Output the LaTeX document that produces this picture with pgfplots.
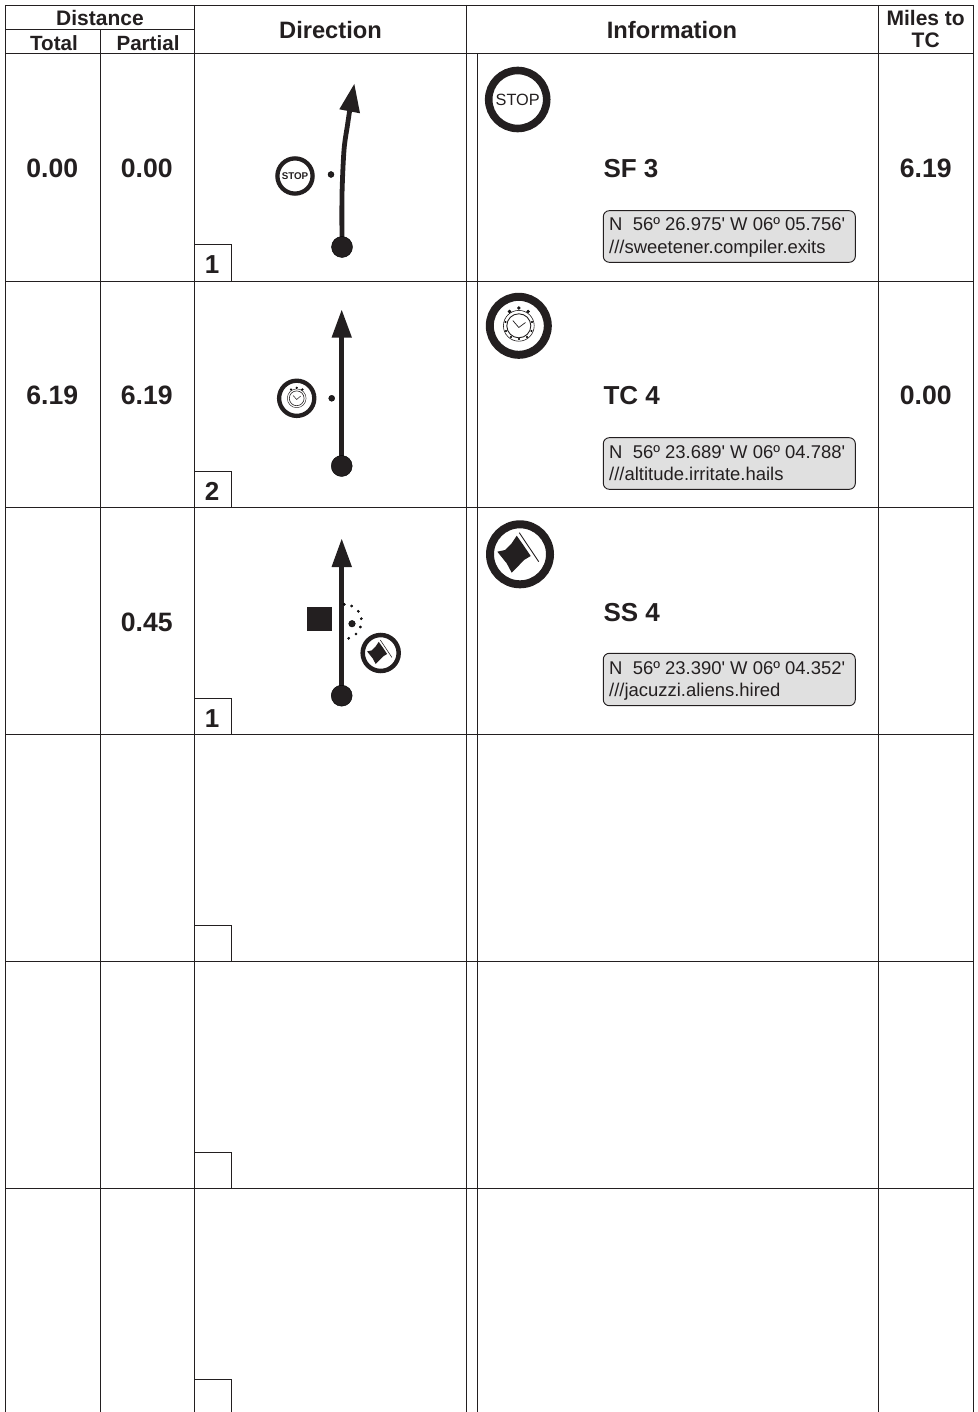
\documentclass[border=0pt]{standalone}
\usepackage{pgfplots}
\pgfplotsset{compat=1.18}
\usepackage{fontspec}
\setmainfont{Liberation Sans}
\newfontfamily\plainf{Liberation Sans}
\definecolor{ink}{HTML}{231F20}
\definecolor{boxgrey}{HTML}{E0E0E0}
\newcommand{\fs}[1]{\fontsize{#1bp}{#1bp}\selectfont}
\newcommand{\txt}[5]{\node[anchor=#1,inner sep=0pt,text=ink,font=#4,yshift=-0.7bp] at (axis cs:#2,#3) {#5};}
\pgfplotsset{
  rule/.style={ink,line width=0.95bp,no marks,forget plot},
  disc/.style 2 args={only marks,mark=*,mark size=#1bp,mark options={fill=ink,draw=none},forget plot},
  ring/.style 2 args={only marks,mark=o,mark size=#1bp,mark options={draw=ink,line width=#2bp},forget plot},
  stem/.style={ink,line width=4.8bp,no marks,forget plot},
  head/.style={fill=ink,draw=none,no marks,forget plot},
  greybox/.style={fill=boxgrey,draw=ink,line width=0.95bp,rounded corners=6bp,no marks,forget plot},
  pen/.style={ink,line width=#1bp,no marks,forget plot},
}
\begin{document}
\begin{tikzpicture}
\path[use as bounding box] (0,0) rectangle (978bp,1412bp);
\begin{axis}[at={(0,0)},anchor=south west,scale only axis,width=978bp,height=1412bp,
  xmin=0,xmax=978,ymin=0,ymax=1412,y dir=reverse,hide axis]
% table rules
\addplot[rule] coordinates {(5,5)(973,5)};
\addplot[rule] coordinates {(5,29.5)(194.5,29.5)};
\addplot[rule] coordinates {(5,53.5)(973,53.5)};
\addplot[rule] coordinates {(5,281)(973,281)};
\addplot[rule] coordinates {(5,507.6)(973,507.6)};
\addplot[rule] coordinates {(5,734.5)(973,734.5)};
\addplot[rule] coordinates {(5,961.3)(973,961.3)};
\addplot[rule] coordinates {(5,1188.3)(973,1188.3)};
\addplot[rule] coordinates {(5,5)(5,1412)};
\addplot[rule] coordinates {(100,29.5)(100,1412)};
\addplot[rule] coordinates {(194.5,5)(194.5,1412)};
\addplot[rule] coordinates {(466.5,5)(466.5,1412)};
\addplot[rule] coordinates {(477.5,53.5)(477.5,1412)};
\addplot[rule] coordinates {(878.5,5)(878.5,1412)};
\addplot[rule] coordinates {(973,5)(973,1412)};
% number boxes
\addplot[rule] coordinates {(194.5,244.5)(231,244.5)(231,281)};
\addplot[rule] coordinates {(194.5,471.2)(231,471.2)(231,507.6)};
\addplot[rule] coordinates {(194.5,698)(231,698)(231,734.5)};
\addplot[rule] coordinates {(194.5,925)(231,925)(231,961.3)};
\addplot[rule] coordinates {(194.5,1152)(231,1152)(231,1188.3)};
\addplot[rule] coordinates {(194.5,1379)(231,1379)(231,1412)};
% header
\txt{base}{100}{25}{\bfseries\fs{21}}{Distance}
\txt{base}{54}{50}{\bfseries\fs{20.6}}{Total}
\txt{base}{148}{50}{\bfseries\fs{20.6}}{Partial}
\txt{base}{330.5}{37.7}{\bfseries\fs{23.7}}{Direction}
\txt{base}{672}{37.7}{\bfseries\fs{23.7}}{Information}
\txt{base}{925.7}{24.4}{\bfseries\fs{21}}{Miles to}
\txt{base}{925.7}{47.3}{\bfseries\fs{21}}{TC}
% row values
\txt{base}{52.3}{176.7}{\bfseries\fs{26.6}}{0.00}
\txt{base}{146.7}{176.7}{\bfseries\fs{26.6}}{0.00}
\txt{base}{925.7}{176.7}{\bfseries\fs{26.6}}{6.19}
\txt{base}{52.3}{403.6}{\bfseries\fs{26.6}}{6.19}
\txt{base}{146.7}{403.6}{\bfseries\fs{26.6}}{6.19}
\txt{base}{925.7}{403.6}{\bfseries\fs{26.6}}{0.00}
\txt{base}{146.7}{630.5}{\bfseries\fs{26.6}}{0.45}
\txt{base}{212}{272.7}{\bfseries\fs{26}}{1}
\txt{base}{212}{499.6}{\bfseries\fs{26}}{2}
\txt{base}{212}{726.5}{\bfseries\fs{26}}{1}
\txt{base west}{603.3}{176.7}{\bfseries\fs{26}}{SF 3}
\txt{base west}{603.3}{403.3}{\bfseries\fs{26}}{TC 4}
\txt{base west}{603.3}{620.7}{\bfseries\fs{26}}{SS 4}
% grey boxes
\addplot[greybox] coordinates {(700,210.7)(855.3,210.7)(855.3,262.3)(603.3,262.3)(603.3,210.7)(700,210.7)};
\addplot[greybox] coordinates {(700,437.7)(855.3,437.7)(855.3,489.3)(603.3,489.3)(603.3,437.7)(700,437.7)};
\addplot[greybox] coordinates {(700,653.3)(855.3,653.3)(855.3,705.7)(603.3,705.7)(603.3,653.3)(700,653.3)};
\txt{base west}{609}{230}{\plainf\fs{18.45}}{N\ \ 56º 26.975' W 06º 05.756'}
\txt{base west}{609}{253.3}{\plainf\fs{18.45}}{///sweetener.compiler.exits}
\txt{base west}{609}{457.3}{\plainf\fs{18.45}}{N\ \ 56º 23.689' W 06º 04.788'}
\txt{base west}{609}{480}{\plainf\fs{18.45}}{///altitude.irritate.hails}
\txt{base west}{609}{673.3}{\plainf\fs{18.45}}{N\ \ 56º 23.390' W 06º 04.352'}
\txt{base west}{609}{696}{\plainf\fs{18.45}}{///jacuzzi.aliens.hired}
% row 1 tulip
\addplot[stem,smooth] coordinates {(342,247)(342,195)(344,150)(347.5,125)(350.5,105)};
\addplot[head] coordinates {(354.3,84)(339.3,109.3)(360,113.3)(354.3,84)} -- cycle;
\addplot[disc={10.5}{0}] coordinates {(342,247)};
\addplot[disc={3}{0}] coordinates {(331,174.5)};
\addplot[ring={17.6}{4.3}] coordinates {(295,176)};
\txt{base}{295}{179}{\bfseries\fs{9.8}}{STOP}
\addplot[ring={29}{7.6}] coordinates {(517.7,99.5)};
\txt{base}{517.7}{104.6}{\plainf\fs{16.3}}{STOP}
% row 2 tulip
\addplot[stem] coordinates {(341.7,466)(341.7,330)};
\addplot[head] coordinates {(341.7,310)(331.5,337.7)(352,337.7)(341.7,310)} -- cycle;
\addplot[disc={10.5}{0}] coordinates {(341.7,466)};
\addplot[disc={3}{0}] coordinates {(331.7,398.3)};
\addplot[ring={17.6}{4.3}] coordinates {(296.7,398.3)};
\addplot[ring={9.4}{0.45}] coordinates {(296.7,398.3)};
\addplot[ring={7.4}{0.6}] coordinates {(296.7,398.3)};
\addplot[pen=0.5] coordinates {(293.1,395.5)(296.7,399.5)(300.7,396)};
\addplot[disc={0.9}{0}] coordinates {(296.7,387.8)(291,389.5)(302.4,389.5)};
\addplot[ring={29}{8}] coordinates {(518.8,325.8)};
\addplot[ring={15.4}{0.6}] coordinates {(518.8,325.8)};
\addplot[ring={12}{0.9}] coordinates {(518.8,325.8)};
\addplot[pen=0.7] coordinates {(512.8,320.5)(518.8,327.5)(525.5,322.5)};
\addplot[disc={1.5}{0}] coordinates {(518.8,308)(509.5,311.5)(528.2,311.5)};
\addplot[disc={0.9}{0}] coordinates {(505.5,322)(506,331)(511,337)(519,339)(527,337)(531.5,331)(532,322)};
% row 3 tulip
\addplot[stem] coordinates {(341.7,695.7)(341.7,560)};
\addplot[head] coordinates {(341.7,539)(331.5,567)(352,567)(341.7,539)} -- cycle;
\addplot[disc={10.5}{0}] coordinates {(341.7,695.7)};
\addplot[head] coordinates {(307,607)(331.7,607)(331.7,631.3)(307,631.3)(307,607)} -- cycle;
\addplot[disc={3.3}{0}] coordinates {(352,623.7)};
\addplot[disc={1.2}{0}] coordinates {(344.3,604.3)(351.7,606)(358.3,611.3)(361.3,618.7)(360.3,627)(356,634)(348.7,638.3)};
\addplot[ring={18}{4.5}] coordinates {(380.7,653)};
\addplot[head] coordinates {(378.7,641.8)(382.7,647.4)(387.1,654)(383.1,656.4)(379.7,660)(375.7,664)(372.7,658.4)(367.1,651.4)(371.7,650.4)(375.7,646.4)(378.7,641.8)} -- cycle;
\addplot[pen=0.6] coordinates {(380.3,640)(391.9,657.4)};
\addplot[ring={30}{8}] coordinates {(520,554.3)};
\addplot[head] coordinates {(516.7,535.7)(523.3,545)(530.7,556)(524,560)(518.3,566)(511.7,572.7)(506.7,563.3)(497.3,551.7)(505,550)(511.7,543.3)(516.7,535.7)} -- cycle;
\addplot[pen=0.9] coordinates {(519.3,532.7)(538.7,561.7)};
\end{axis}
\end{tikzpicture}
\end{document}
